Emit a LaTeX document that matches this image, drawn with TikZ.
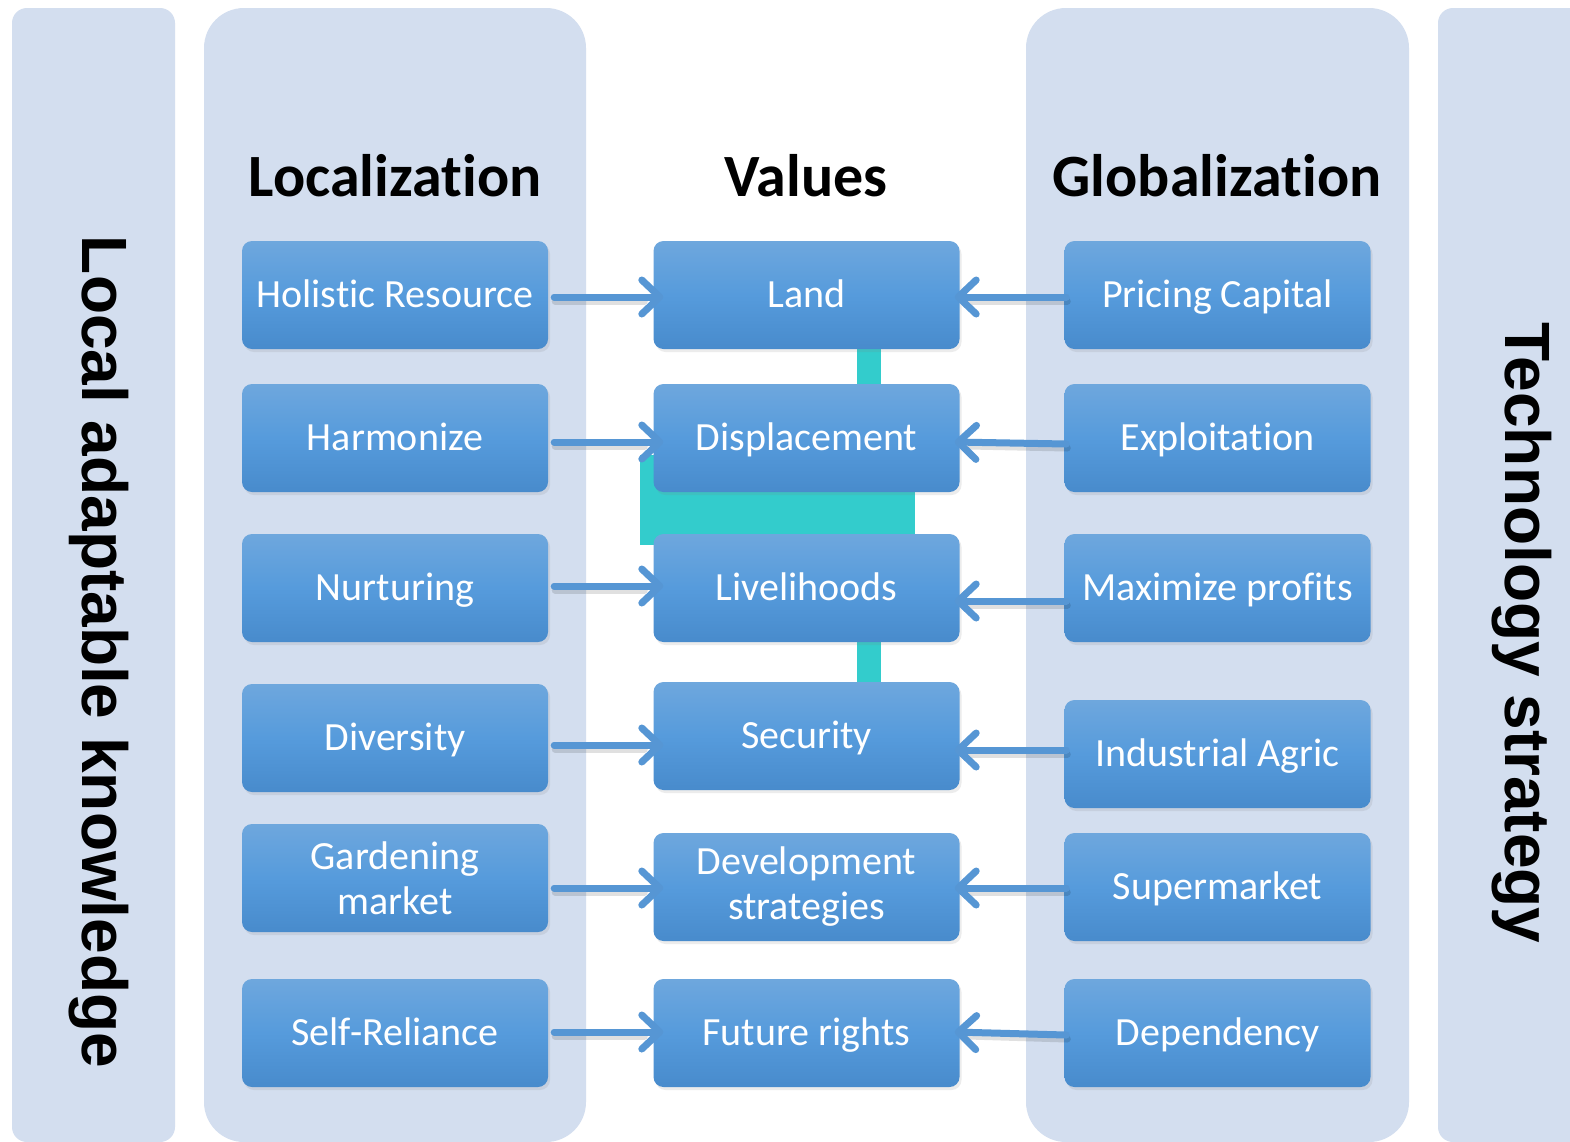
\documentclass[tikz,border=0pt]{standalone}
\usepackage{fontspec}
\setmainfont{Carlito}[Ligatures=NoCommon]
\newfontfamily\sidefont{Liberation Sans}
\usetikzlibrary{arrows.meta,shadows}
\definecolor{panel}{RGB}{211,222,239}
\definecolor{btop}{RGB}{110,167,221}
\definecolor{bmid}{RGB}{86,155,220}
\definecolor{bbot}{RGB}{72,139,204}
\definecolor{arrowc}{RGB}{86,150,212}
\definecolor{tealc}{RGB}{51,204,204}
\tikzset{
  box/.style={rectangle, rounded corners=10pt, minimum width=306pt, minimum height=108pt,
    inner sep=0pt, top color=btop, bottom color=bbot, middle color=bmid, text=white,
    font=\fontsize{40}{45}\selectfont, align=center,
    drop shadow={opacity=0.15, shadow xshift=2pt, shadow yshift=-3pt}},
  sbox/.style={box, text height=30pt, text depth=5pt},
  head/.style={font=\fontsize{60}{60}\selectfont\bfseries, anchor=base},
  side/.style={rotate=-90, anchor=base, font=\sidefont\bfseries\fontsize{64}{64}\selectfont},
  arr/.style={draw=arrowc, line width=7pt, line cap=round, line join=round,
    -{Straight Barb[length=18pt,width=34pt,line cap=round,line join=round]}},
  arrsh/.style={draw=black, opacity=0.12, line width=7pt, line cap=round,
    transform canvas={xshift=1pt,yshift=-4pt}},
}
\begin{document}
\begin{tikzpicture}[x=1pt,y=-1pt]
\useasboundingbox (0,0) rectangle (1570,1141);
\fill[white] (0,0) rectangle (1570,1141);
% panels
\fill[panel, rounded corners=15pt] (12,8) rectangle (175,1142);
\fill[panel, rounded corners=40pt] (204,8) rectangle (586,1142);
\fill[panel, rounded corners=40pt] (1026,8) rectangle (1409,1142);
\fill[panel, rounded corners=15pt] (1438,8) rectangle (1600,1142);
% side labels
\node[side] (sideL) at (82,652) {Local adaptable knowledge};
\node[side] (sideR) at (1505,633) {Technology strategy};
% headings
\node[head] (hL) at (395,196) {Localization};
\node[head] (hM) at (806,196) {Values};
\node[head] (hR) at (1217,196) {Globalization};
% teal connectors behind
\fill[tealc] (857,340) rectangle (881,392);
\fill[tealc] (640,455) rectangle (915,545);
\fill[tealc] (857,635) rectangle (881,690);
% left column
\node[sbox] (l1) at (395,295) {Holistic Resource};
\node[sbox] (l2) at (395,438) {Harmonize};
\node[sbox] (l3) at (395,588) {Nurturing};
\node[sbox] (l4) at (395,738) {Diversity};
\node[box]  (l5) at (395,878) {Gardening\\market};
\node[sbox] (l6) at (395,1033) {Self-Reliance};
% middle column
\node[sbox] (m1) at (806.5,295) {Land};
\node[sbox] (m2) at (806.5,438) {Displacement};
\node[sbox] (m3) at (806.5,588) {Livelihoods};
\node[sbox] (m4) at (806.5,736) {Security};
\node[box]  (m5) at (806.5,887) {Development\\strategies};
\node[sbox] (m6) at (806.5,1033) {Future rights};
% right column
\node[sbox] (r1) at (1217.5,295) {Pricing Capital};
\node[sbox] (r2) at (1217.5,438) {Exploitation};
\node[sbox] (r3) at (1217.5,588) {Maximize profits};
\node[sbox] (r4) at (1217.5,754) {Industrial Agric};
\node[sbox] (r5) at (1217.5,887) {Supermarket};
\node[sbox] (r6) at (1217.5,1033) {Dependency};
% left arrows
\foreach \a/\b/\sa/\sb in {l1/m1/-2/-2, l2/m2/-4/-4, l3/m3/2/2, l4/m4/-7/-9, l5/m5/-10/-1, l6/m6/1/1}{
  \draw[arrsh] ([xshift=6pt,yshift=\sa pt]\a.east) -- ([xshift=-10pt,yshift=\sb pt]\b.west);
  \draw[arr] ([xshift=6pt,yshift=\sa pt]\a.east) -- ([xshift=10pt,yshift=\sb pt]\b.west);
}
% right arrows
\foreach \a/\b/\sa/\sb in {r1/m1/-2/-2, r2/m2/-6/-4, r3/m3/-13/-13, r4/m4/4/-14, r5/m5/-1/-1, r6/m6/-2/1}{
  \draw[arrsh] ([xshift=2pt,yshift=\sa pt]\a.west) -- ([xshift=8pt,yshift=\sb pt]\b.east);
  \draw[arr] ([xshift=2pt,yshift=\sa pt]\a.west) -- ([xshift=-5pt,yshift=\sb pt]\b.east);
}
\end{tikzpicture}
\end{document}
